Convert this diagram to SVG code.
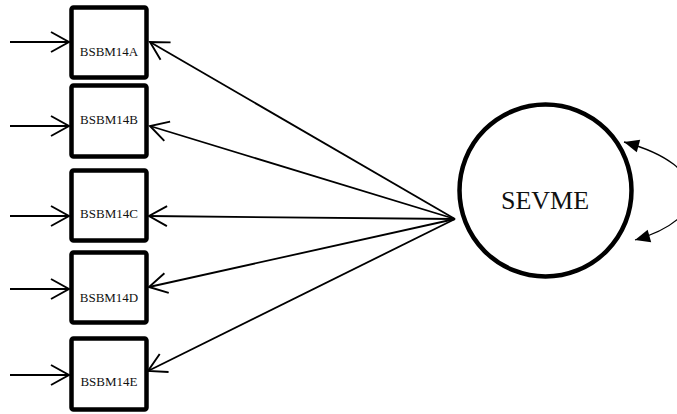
<svg xmlns="http://www.w3.org/2000/svg" width="677" height="414" viewBox="0 0 677 414">
  <style>
    .box { fill: #fff; stroke: #000; stroke-width: 4.5; }
    .lbl { font-family: "Liberation Serif", "Times New Roman", serif; font-size: 13px; fill: #111; text-anchor: middle; }
    .big { font-family: "Liberation Serif", "Times New Roman", serif; font-size: 26px; fill: #111; text-anchor: middle; }
    .edge { fill: none; stroke: #000; stroke-width: 1.8; }
    .loop { fill: none; stroke: #000; stroke-width: 1.3; }
  </style>
  <defs>
    <marker id="open" markerUnits="userSpaceOnUse" markerWidth="24" markerHeight="24" viewBox="-20 -12 22 24" refX="0" refY="0" orient="auto">
      <path d="M-18,-10 L0,0 L-18,10" fill="none" stroke="#000" stroke-width="1.9"/>
    </marker>
    <marker id="solid" markerUnits="userSpaceOnUse" markerWidth="18" markerHeight="16" viewBox="-16 -8 17 16" refX="0" refY="0" orient="auto-start-reverse">
      <path d="M-15,-6.5 L0,0 L-15,6.5 Z" fill="#000"/>
    </marker>
  </defs>

  <g id="connectors">
    <!-- error terms into the indicators -->
    <line class="edge" x1="10" y1="42" x2="69" y2="42" marker-end="url(#open)"/>
    <line class="edge" x1="10" y1="126" x2="69" y2="126" marker-end="url(#open)"/>
    <line class="edge" x1="10" y1="216" x2="69" y2="216" marker-end="url(#open)"/>
    <line class="edge" x1="10" y1="289" x2="69" y2="289" marker-end="url(#open)"/>
    <line class="edge" x1="10" y1="375" x2="69" y2="375" marker-end="url(#open)"/>
    <!-- factor loadings -->
    <line class="edge" x1="455" y1="219" x2="150" y2="42" marker-end="url(#open)"/>
    <line class="edge" x1="455" y1="219" x2="150" y2="126" marker-end="url(#open)"/>
    <line class="edge" x1="455" y1="219" x2="149" y2="216" marker-end="url(#open)"/>
    <line class="edge" x1="455" y1="219" x2="149" y2="287" marker-end="url(#open)"/>
    <line class="edge" x1="455" y1="219" x2="148" y2="371" marker-end="url(#open)"/>
    <!-- factor variance -->
    <path class="loop" d="M624,142 C712,166 712,218 635,240" marker-start="url(#solid)" marker-end="url(#solid)"/>
  </g>

  <g id="BSBM14A">
    <rect class="box" x="71.5" y="7.5" width="75" height="70" rx="2"/>
    <text class="lbl" x="109" y="56">BSBM14A</text>
  </g>
  <g id="BSBM14B">
    <rect class="box" x="71.5" y="85.5" width="75" height="71" rx="2"/>
    <text class="lbl" x="109" y="124">BSBM14B</text>
  </g>
  <g id="BSBM14C">
    <rect class="box" x="71.5" y="170.5" width="75" height="70" rx="2"/>
    <text class="lbl" x="109" y="218">BSBM14C</text>
  </g>
  <g id="BSBM14D">
    <rect class="box" x="71.5" y="252.5" width="75" height="70" rx="2"/>
    <text class="lbl" x="109" y="302">BSBM14D</text>
  </g>
  <g id="BSBM14E">
    <rect class="box" x="71.5" y="338.5" width="75" height="71" rx="2"/>
    <text class="lbl" x="109" y="386">BSBM14E</text>
  </g>

  <g id="SEVME">
    <circle cx="545.5" cy="190.5" r="86" fill="#fff" stroke="#000" stroke-width="4.5"/>
    <text class="big" x="545" y="209">SEVME</text>
  </g>
</svg>
